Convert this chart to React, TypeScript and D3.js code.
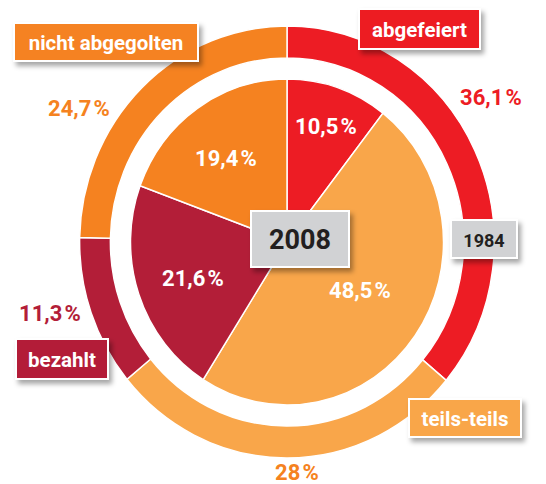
import React from "react";
import * as d3 from "d3";

const categories = ["abgefeiert", "teils-teils", "bezahlt", "nicht abgegolten"];
const values1984 = [36.1, 28, 11.3, 24.7];
const values2008 = [10.5, 48.5, 21.6, 19.4];
const colors = ["#ED1C24", "#F9A64A", "#B31E38", "#F58220"];
const labels1984 = ["36,1\u200A%", "28\u200A%", "11,3\u200A%", "24,7\u200A%"];
const labels2008 = ["10,5\u200A%", "48,5\u200A%", "21,6\u200A%", "19,4\u200A%"];
const yearLabels = ["1984", "2008"];

// layout (positions only)
const W = 546, H = 484;
const cx = 287, cy = 242, sx = 0.96;
const outerR = 216, ringInner = 184, pieR = 163;
const outerLabelPos = [[491, 97], [297, 472], [50, 313], [79, 108]];
const innerLabelPos = [[326, 126], [360, 290], [193, 278], [226, 158]];
const catBoxes = [
  { x: 359, y: 9, w: 121, h: 40 },
  { x: 409, y: 399, w: 112, h: 38 },
  { x: 16, y: 339, w: 92, h: 40 },
  { x: 14, y: 23, w: 184, h: 38 },
];
const yearBoxes = [
  { x: 451, y: 220, w: 66, h: 38, fs: 18 },
  { x: 251, y: 211, w: 98, h: 56, fs: 27 },
];

export default function App() {
  const pie = d3.pie<number>().sort(null).value((d) => d);
  const outerArcs = pie(values1984);
  const innerArcs = pie(values2008);
  const ringArc = d3.arc<d3.PieArcDatum<number>>().innerRadius(ringInner).outerRadius(outerR);
  const pieArc = d3.arc<d3.PieArcDatum<number>>().innerRadius(0).outerRadius(pieR);
  const font = "Roboto, 'Liberation Sans', Arial, sans-serif";

  return (
    <svg width={W} height={H} style={{ position: "absolute", left: 0, top: 0, background: "#fff" }}>
      <defs>
        <filter id="sh" x="-20%" y="-20%" width="150%" height="160%">
          <feDropShadow dx="3" dy="4" stdDeviation="2.5" floodColor="#000" floodOpacity="0.35" />
        </filter>
      </defs>
      <g transform={`translate(${cx},${cy}) scale(${sx},1)`}>
        {outerArcs.map((a, i) => (
          <path key={"o" + i} d={ringArc(a) || ""} fill={colors[i]} stroke="#fff" strokeWidth={1.5} />
        ))}
        {innerArcs.map((a, i) => (
          <path key={"i" + i} d={pieArc(a) || ""} fill={colors[i]} stroke="#fff" strokeWidth={1.5} />
        ))}
      </g>
      {labels1984.map((t, i) => (
        <text key={"ol" + i} x={outerLabelPos[i][0]} y={outerLabelPos[i][1]} textAnchor="middle"
          dominantBaseline="central" fontFamily={font} fontWeight={700} fontSize={22}
          fill={i === 1 ? "#F58220" : colors[i]}>{t}</text>
      ))}
      {labels2008.map((t, i) => (
        <text key={"il" + i} x={innerLabelPos[i][0]} y={innerLabelPos[i][1]} textAnchor="middle"
          dominantBaseline="central" fontFamily={font} fontWeight={700} fontSize={22} fill="#fff">{t}</text>
      ))}
      {catBoxes.map((b, i) => (
        <g key={"cb" + i}>
          <rect x={b.x} y={b.y} width={b.w} height={b.h} fill={colors[i]} stroke="#fff" strokeWidth={2} filter="url(#sh)" />
          <text x={b.x + b.w / 2} y={b.y + b.h / 2 + 1} textAnchor="middle" dominantBaseline="central"
            fontFamily={font} fontWeight={700} fontSize={20.5} fill="#fff">{categories[i]}</text>
        </g>
      ))}
      {yearBoxes.map((b, i) => (
        <g key={"yb" + i}>
          <rect x={b.x} y={b.y} width={b.w} height={b.h} fill="#D1D2D4" stroke="#fff" strokeWidth={2} filter="url(#sh)" />
          <text x={b.x + b.w / 2} y={b.y + b.h / 2 + 1} textAnchor="middle" dominantBaseline="central"
            fontFamily={font} fontWeight={700} fontSize={b.fs} fill="#231F20">{yearLabels[i]}</text>
        </g>
      ))}
    </svg>
  );
}
